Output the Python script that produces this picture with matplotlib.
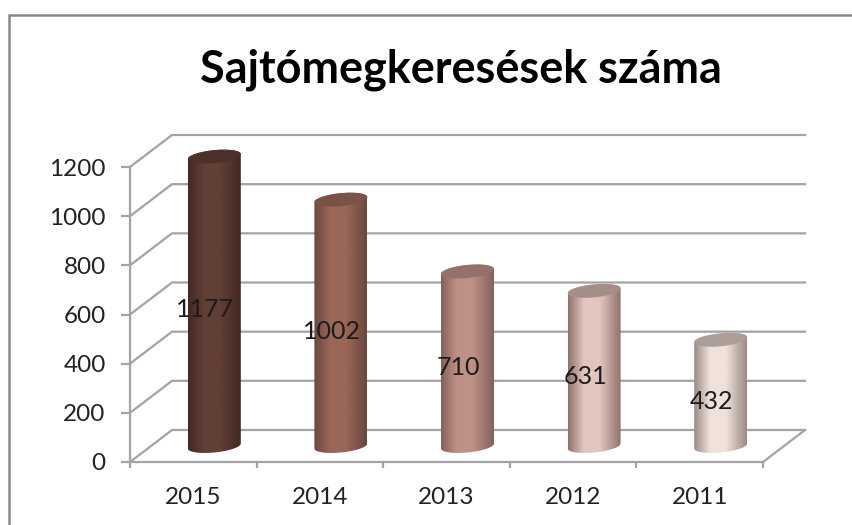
"""Sajtómegkeresések száma: 3D-look cylinder chart drawn on a flat axes."""

import matplotlib

matplotlib.use("Agg")

import matplotlib.pyplot as plt
import numpy as np
from matplotlib.colors import LinearSegmentedColormap
from matplotlib.patches import PathPatch, Polygon
from matplotlib.path import Path

TITLE = "Sajtómegkeresések száma"
years = ["2015", "2014", "2013", "2012", "2011"]
counts = [1177, 1002, 710, 631, 432]
y_ticks = [0, 200, 400, 600, 800, 1000, 1200]

edge_colors = ["#432823", "#6a473d", "#84615a", "#8f736c", "#9a8b86"]
mid_colors = ["#623f35", "#9a6758", "#bf9186", "#e2c6bf", "#f1e1db"]
top_colors = ["#4e302a", "#7a5347", "#94716a", "#a68e88", "#ab9d98"]

GREY = "#a3a3a3"
LINE = 1.6
LABEL_SIZE = 17.5
W, H = 852, 525
LEFT, RIGHT, TOP, BOTTOM = 130, 763, 167, 462
DEPTH_X, DEPTH_Y = 42, 32

plt.rcParams["font.family"] = ["Lato", "DejaVu Sans"]

fig = plt.figure(figsize=(W / 100, H / 100), dpi=100)
ax = fig.add_axes([LEFT / W, 1 - BOTTOM / H, (RIGHT - LEFT) / W, (BOTTOM - TOP) / H])
ax.patch.set_visible(False)

# data units per pixel, the depth effect is worked out in pixels
sx = len(years) / (RIGHT - LEFT)
sy = max(y_ticks) / (BOTTOM - TOP)
dx, dy = DEPTH_X * sx, DEPTH_Y * sy


def ellipse(cx, cy, t):
    """Points of a slightly tilted ellipse around a data position."""
    x = cx + 26.5 * sx * np.cos(t)
    y = cy + (6.5 * np.sin(t) + 2.5 * np.cos(t)) * sy
    return np.column_stack([x, y])


# back wall and floor
for v in y_ticks:
    ax.plot([0, dx, len(years) + dx], [v, v + dy, v + dy], color=GREY, lw=LINE,
            clip_on=False, zorder=1, solid_joinstyle="miter")
ax.plot([len(years), len(years) + dx], [0, dy], color=GREY, lw=LINE, clip_on=False, zorder=1)

# cylinders
for i, value in enumerate(counts):
    cx = i + 0.5 + dx / 2
    base = dy / 2
    lower = ellipse(cx, base, np.linspace(np.pi, 2 * np.pi, 40))
    upper = ellipse(cx, base + value, np.linspace(0, np.pi, 40))
    outline = np.vstack([lower, upper, lower[:1]])
    clip = PathPatch(Path(outline, closed=True), transform=ax.transData,
                     facecolor="none", edgecolor="none")
    ax.add_patch(clip)

    cmap = LinearSegmentedColormap.from_list(
        "cyl", [(0, edge_colors[i]), (0.3, mid_colors[i]), (0.6, mid_colors[i]), (1, edge_colors[i])]
    )
    im = ax.imshow(
        np.linspace(0, 1, 128).reshape(1, -1), cmap=cmap, aspect="auto", interpolation="bilinear",
        extent=[cx - 26.5 * sx, cx + 26.5 * sx, 0, base + value + 8 * sy], zorder=2,
    )
    im.set_clip_path(clip)
    im.set_clip_box(fig.bbox)

    top = ellipse(cx, base + value, np.linspace(0, 2 * np.pi, 80))
    ax.add_patch(Polygon(top, closed=True, facecolor=top_colors[i], edgecolor="none",
                         clip_on=False, zorder=3))
    ax.annotate(str(value), (i + 0.5, value / 2), xytext=(8.6, 5.4), textcoords="offset points",
                ha="center", va="center", fontsize=18, color="#1c1c1c", zorder=5)

ax.set_xlim(0, len(years))
ax.set_ylim(0, max(y_ticks))

for side in ("top", "right"):
    ax.spines[side].set_visible(False)
for side in ("left", "bottom"):
    ax.spines[side].set_color(GREY)
    ax.spines[side].set_linewidth(LINE)

ax.set_yticks(y_ticks)
ax.tick_params(axis="y", length=6.5, width=LINE, color=GREY, pad=11, labelsize=LABEL_SIZE, labelcolor="#222222")
ax.set_xticks(np.arange(len(years)) + 0.5, years)
ax.set_xticks(np.arange(len(years) + 1), minor=True)
ax.tick_params(axis="x", which="major", length=0, pad=18, labelsize=LABEL_SIZE, labelcolor="#222222")
ax.tick_params(axis="x", which="minor", length=4.5, width=LINE, color=GREY)

fig.text(461 / W, 1 - 70 / H, TITLE, ha="center", va="center", fontsize=32.4, fontweight="bold", color="black")

# chart frame, only its top and left edges are inside the crop
fig.add_artist(plt.Line2D([8.5 / W, 8.5 / W, 1], [0, 1 - 14.5 / H, 1 - 14.5 / H],
                          color="#888888", lw=1.8, solid_joinstyle="miter"))

fig.savefig("out.png", dpi=100)
plt.close(fig)
